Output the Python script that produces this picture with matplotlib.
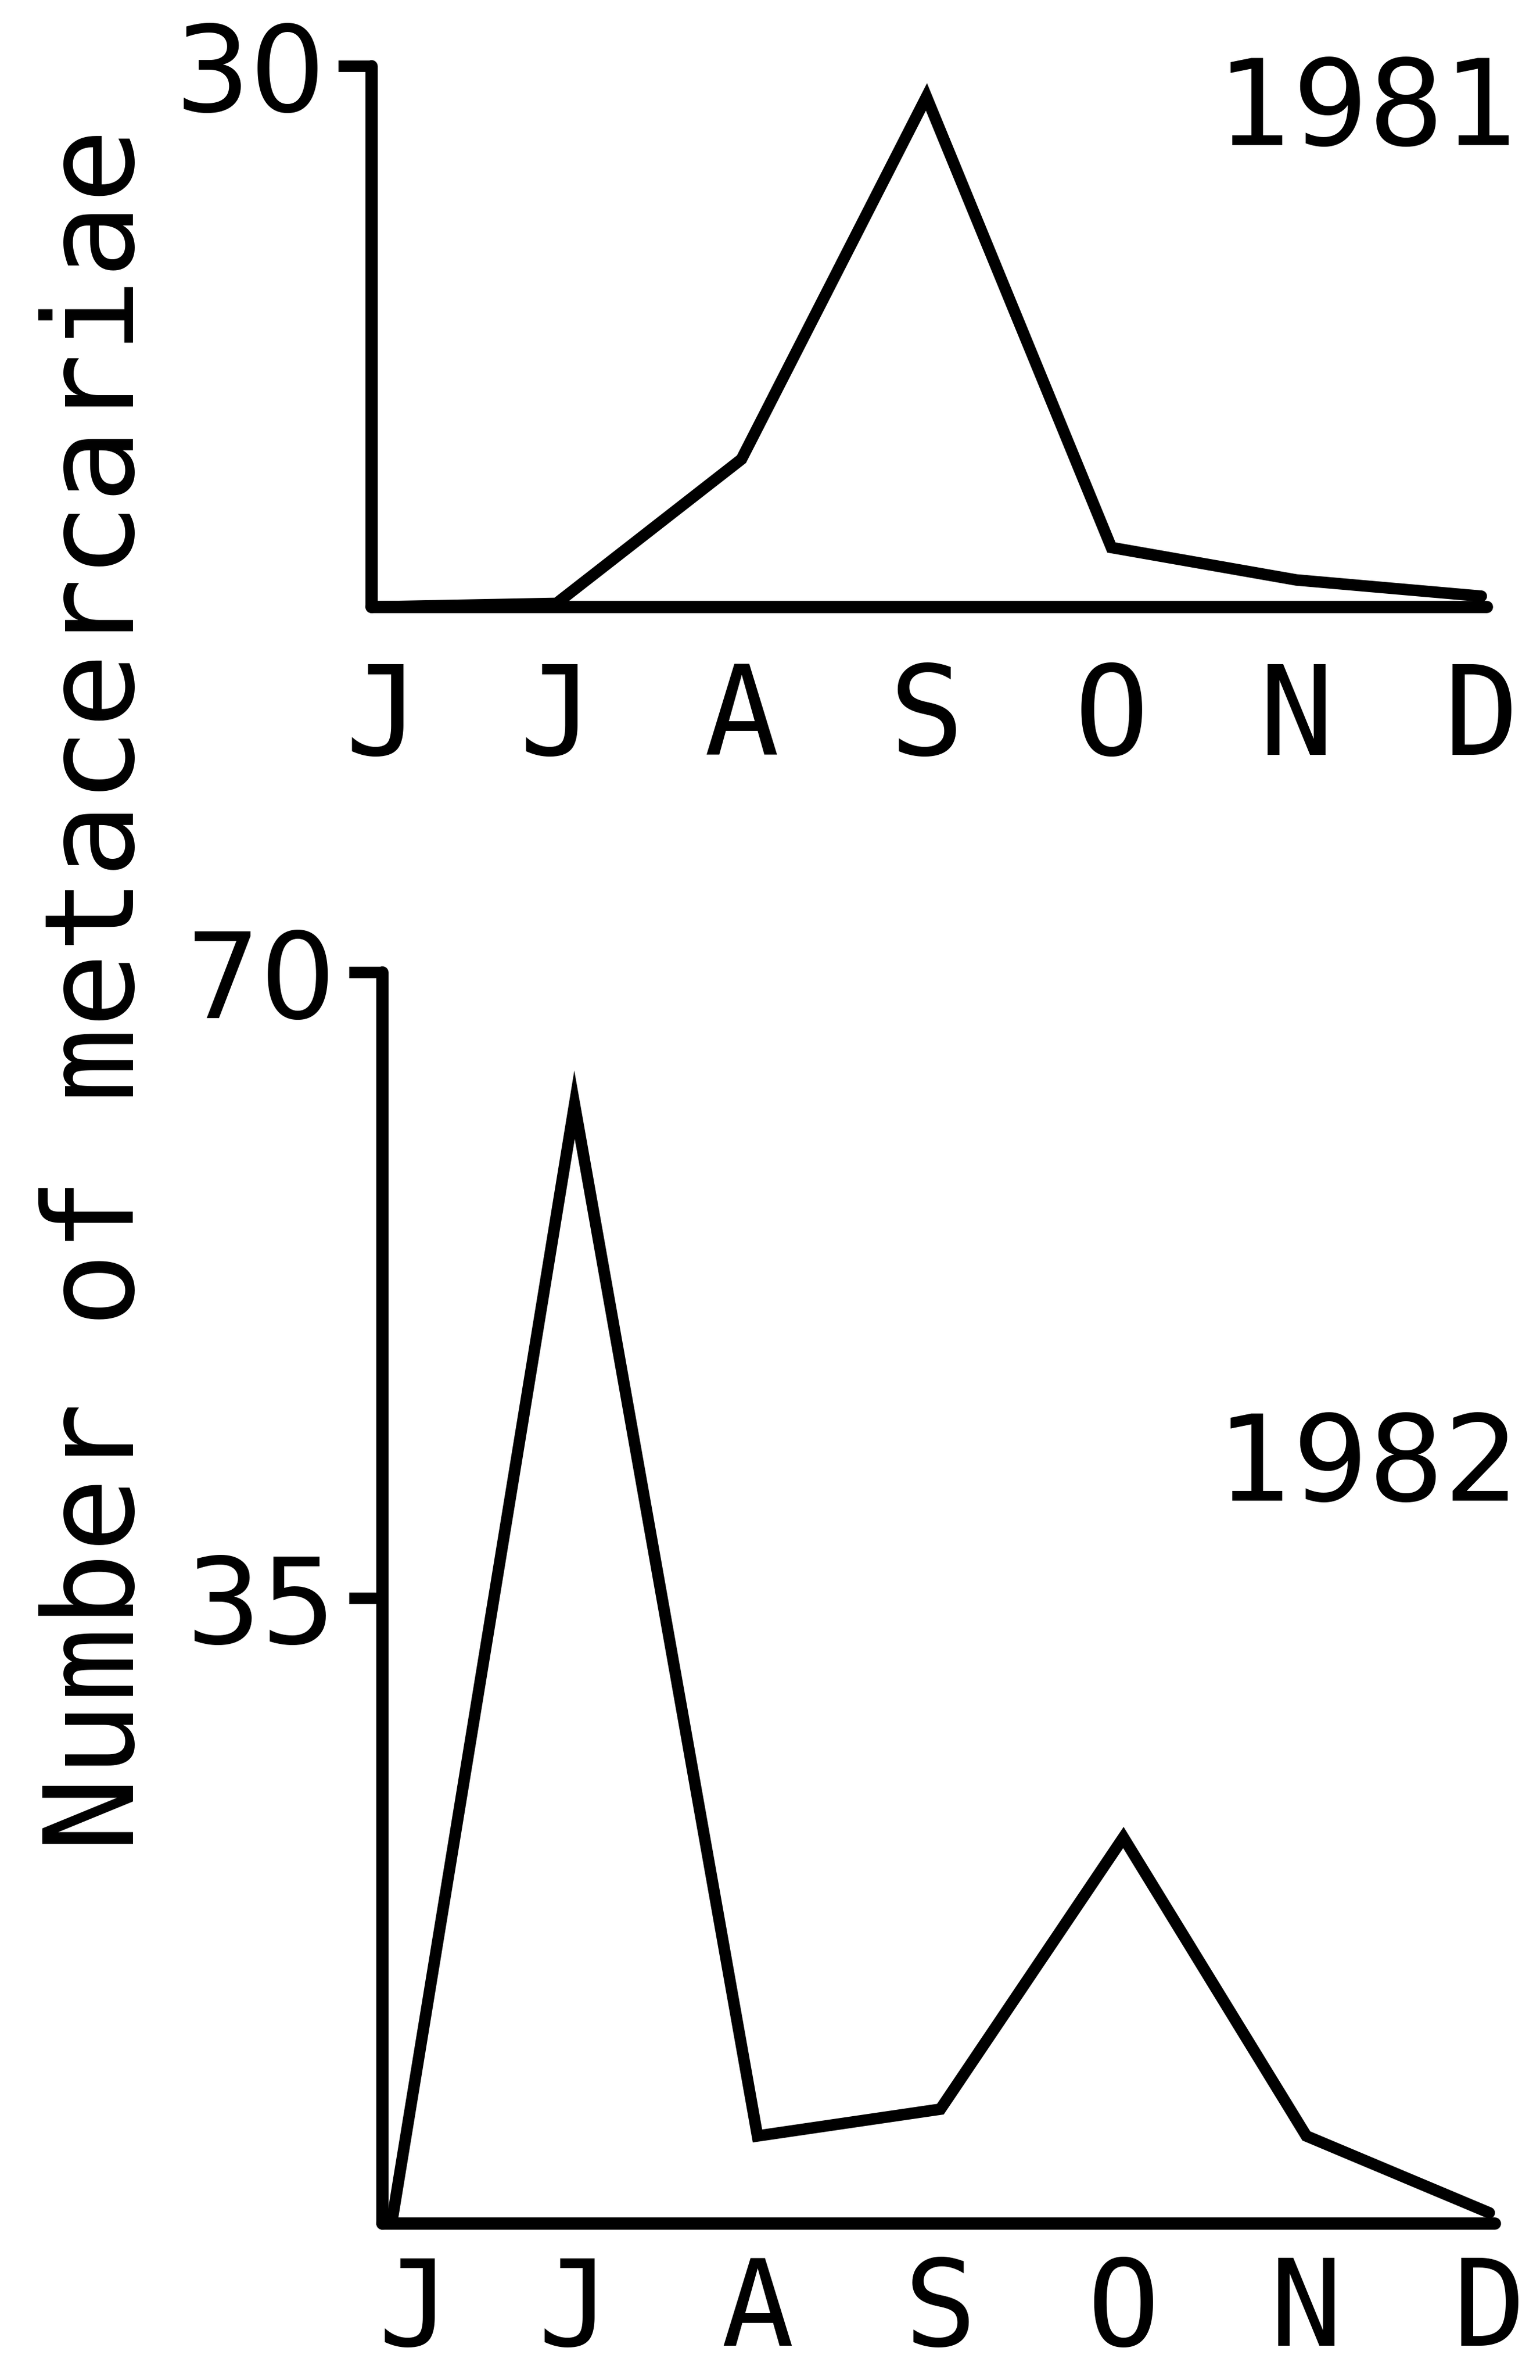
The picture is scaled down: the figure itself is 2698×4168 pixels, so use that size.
import matplotlib
matplotlib.use("Agg")
import matplotlib.pyplot as plt
import matplotlib.transforms as mtransforms

# --- data ---
months = ["J", "J", "A", "S", "O", "N", "D"]
counts_1981 = [0, 0.2, 8.2, 28.3, 3.3, 1.5, 0.6]
counts_1982 = [0, 62.6, 4.9, 6.4, 21.6, 4.9, 0.6]
yticks_1981 = [30]
yticks_1982 = [35, 70]

FONT = "DejaVu Sans Mono"
NUMFONT = "DejaVu Sans"   # plain (undotted) zero for the numbers
FS = 157
LW = 14.5

plt.rcParams["font.family"] = [FONT, "DejaVu Sans"]

fig = plt.figure(figsize=(26.98, 41.68), dpi=100)
fig.patch.set_facecolor("white")


def style_axis(ax, yticks, ymax, xpad, xsize, first_shift):
    x = list(range(len(months)))
    ax.set_ylim(0, ymax)
    ax.set_yticks(yticks)
    ax.set_yticklabels([str(t) for t in yticks], family=NUMFONT)
    ax.set_xticks(x)
    ax.set_xticklabels(months)
    for side in ("top", "right"):
        ax.spines[side].set_visible(False)
    for side in ("left", "bottom"):
        ax.spines[side].set_linewidth(LW + 1)
        ax.spines[side].set_capstyle("round")
    ax.tick_params(axis="y", direction="out", length=42, width=LW,
                   pad=16, labelsize=150)
    ax.tick_params(axis="x", length=0, pad=xpad, labelsize=xsize)
    # first "J" sits a little right of the axis corner
    lab = ax.get_xticklabels()[0]
    lab.set_transform(lab.get_transform() +
                      mtransforms.ScaledTranslation(first_shift / 100, 0,
                                                    fig.dpi_scale_trans))


# ---- 1981 ----
ax1 = fig.add_axes([651 / 2698, 1 - 1063 / 4168, 0.7242, (1063 - 116) / 4168])
ax1.set_xlim(0, 6.03)
ax1.plot(range(len(months)), counts_1981, color="black", lw=LW,
         solid_joinstyle="miter", solid_capstyle="round", clip_on=False)
style_axis(ax1, yticks_1981, 30, 66, FS, 19)

# ---- 1982 ----
ax2 = fig.add_axes([670 / 2698, 1 - 3894 / 4168, 0.7223, (3894 - 1703) / 4168])
ax2.set_xlim(-0.05, 6.03)
ax2.plot(range(len(months)), counts_1982, color="black", lw=LW,
         solid_joinstyle="miter", solid_capstyle="round", clip_on=False)
style_axis(ax2, yticks_1982, 70, 38, 152, 40)

# year labels
fig.text(2662 / 2698, 1 - 254 / 4168, "1981", ha="right", va="baseline",
         fontsize=150, family=NUMFONT)
fig.text(2662 / 2698, 1 - 2628 / 4168, "1982", ha="right", va="baseline",
         fontsize=150, family=NUMFONT)

# shared y label
fig.text(173 / 2698, 1 - 1734 / 4168, "Number of metacercariae",
         rotation=90, ha="center", va="center", fontsize=FS)

fig.savefig("out.png", dpi=100, facecolor="white")
